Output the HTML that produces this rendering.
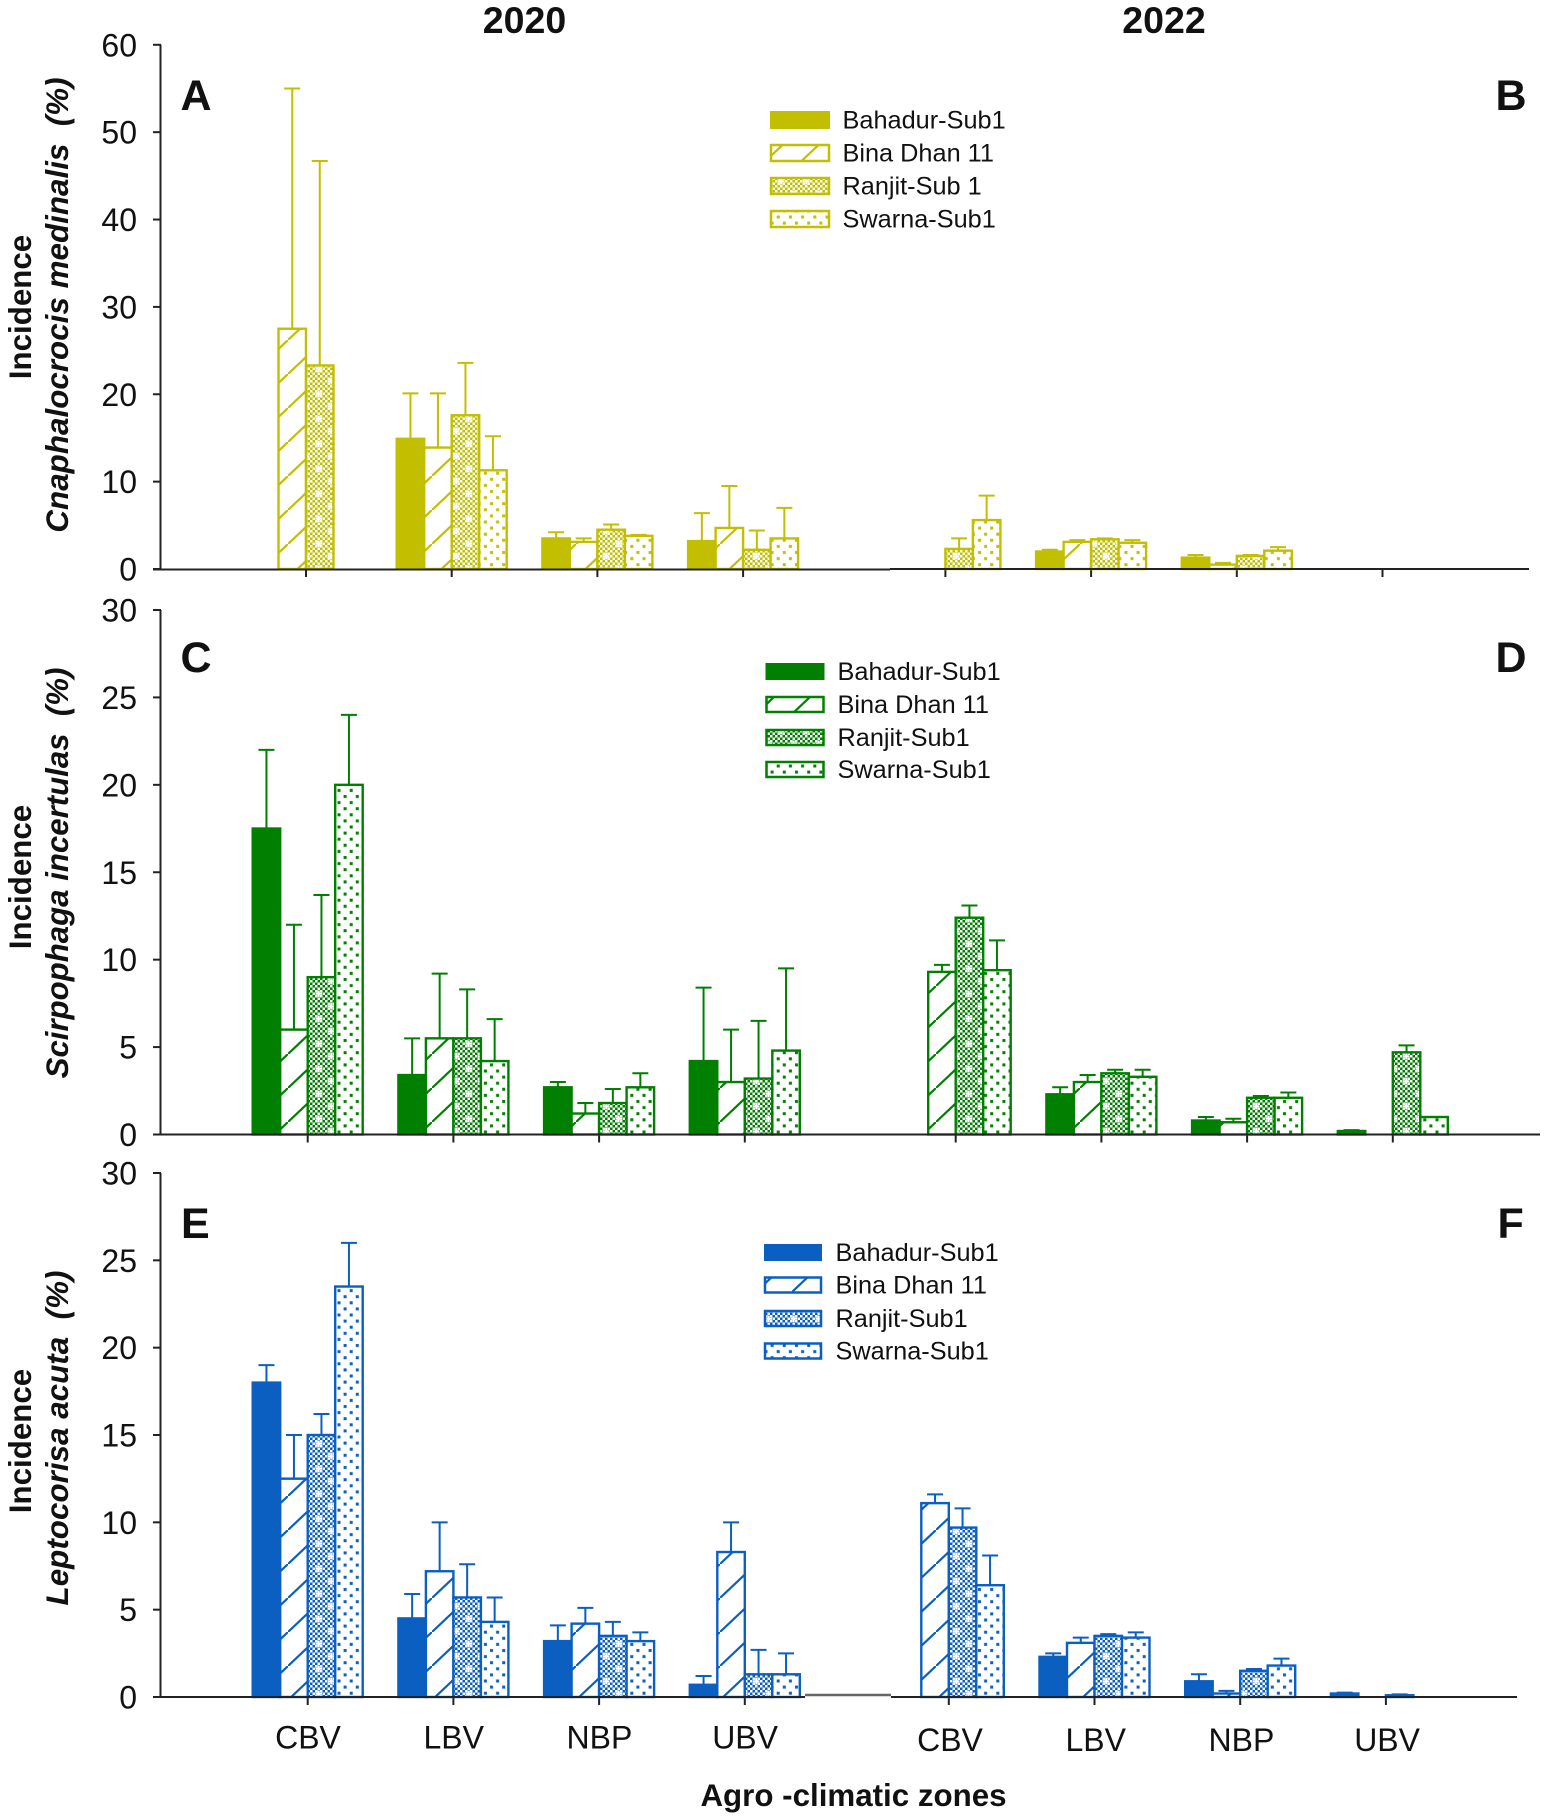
<!DOCTYPE html>
<html lang="en">
<head>
<meta charset="utf-8">
<title>Incidence by agro-climatic zone</title>
<style>
html,body{margin:0;padding:0;background:#fff;}
svg{display:block;font-family:"Liberation Sans",Arial,sans-serif;}
text{fill:#111;white-space:pre;}
.t{font-size:32px;}
.lg{font-size:25.3px;}
.b{font-weight:bold;}
.bi{font-weight:bold;font-style:italic;}
</style>
</head>
<body>
<svg id="chart" width="1545" height="1819" viewBox="0 0 1545 1819" xmlns="http://www.w3.org/2000/svg">
<defs id="defs"></defs>
<rect width="1545" height="1819" fill="#fff"/>

<text class="b" x="524.5" y="33" font-size="37.5" text-anchor="middle">2020</text>
<text class="b" x="1164" y="33" font-size="37.5" text-anchor="middle">2022</text>

<text class="b" x="180.5" y="110" font-size="43">A</text>
<text class="b" x="1495.5" y="110" font-size="43">B</text>
<text class="b" x="180.5" y="672" font-size="43">C</text>
<text class="b" x="1495.5" y="672" font-size="43">D</text>
<text class="b" x="181" y="1238" font-size="43">E</text>
<text class="b" x="1497.5" y="1238" font-size="43">F</text>

<text class="b" font-size="31.3" text-anchor="middle" transform="translate(31 307) rotate(-90)">Incidence</text>
<text class="bi" font-size="31.4" text-anchor="middle" transform="translate(68 305) rotate(-90)">Cnaphalocrocis medinalis  (%)</text>
<text class="b" font-size="31.3" text-anchor="middle" transform="translate(31 877) rotate(-90)">Incidence</text>
<text class="bi" font-size="31.2" text-anchor="middle" transform="translate(68 873) rotate(-90)">Scirpophaga incertulas  (%)</text>
<text class="b" font-size="31.3" text-anchor="middle" transform="translate(31 1441) rotate(-90)">Incidence</text>
<text class="bi" font-size="31.4" text-anchor="middle" transform="translate(68 1438) rotate(-90)">Leptocorisa acuta  (%)</text>

<text class="b" x="853.5" y="1806" font-size="31.3" text-anchor="middle">Agro -climatic zones</text>

<g>
  <rect x="771" y="112" width="58" height="16" fill="#c2bf00" stroke="#c2bf00" stroke-width="2"/>
  <rect x="771" y="145" width="58" height="16" fill="url(#hatch-olive)" stroke="#c2bf00" stroke-width="2.5"/>
  <rect x="771" y="178" width="58" height="16" fill="url(#check-olive)" stroke="#c2bf00" stroke-width="2.5"/>
  <rect x="771" y="211" width="58" height="16" fill="url(#dots-olive)" stroke="#c2bf00" stroke-width="2.5"/>
  <text class="lg" x="842.5" y="128.5">Bahadur-Sub1</text>
  <text class="lg" x="842.5" y="161.5">Bina Dhan 11</text>
  <text class="lg" x="842.5" y="194.5">Ranjit-Sub 1</text>
  <text class="lg" x="842.5" y="227.5">Swarna-Sub1</text>
</g>
<g>
  <rect x="766.5" y="664" width="57" height="15" fill="#007f00" stroke="#007f00" stroke-width="2"/>
  <rect x="766.5" y="697" width="57" height="15" fill="url(#hatch-green)" stroke="#007f00" stroke-width="2.5"/>
  <rect x="766.5" y="730" width="57" height="15" fill="url(#check-green)" stroke="#007f00" stroke-width="2.5"/>
  <rect x="766.5" y="762" width="57" height="15" fill="url(#dots-green)" stroke="#007f00" stroke-width="2.5"/>
  <text class="lg" x="837.5" y="680">Bahadur-Sub1</text>
  <text class="lg" x="837.5" y="713">Bina Dhan 11</text>
  <text class="lg" x="837.5" y="746">Ranjit-Sub1</text>
  <text class="lg" x="837.5" y="778">Swarna-Sub1</text>
</g>
<g>
  <rect x="765" y="1245" width="56" height="15" fill="#0a5fc0" stroke="#0a5fc0" stroke-width="2"/>
  <rect x="765" y="1277.5" width="56" height="15" fill="url(#hatch-blue)" stroke="#0a5fc0" stroke-width="2.5"/>
  <rect x="765" y="1311" width="56" height="15" fill="url(#check-blue)" stroke="#0a5fc0" stroke-width="2.5"/>
  <rect x="765" y="1343.5" width="56" height="15" fill="url(#dots-blue)" stroke="#0a5fc0" stroke-width="2.5"/>
  <text class="lg" x="835.5" y="1261">Bahadur-Sub1</text>
  <text class="lg" x="835.5" y="1293.5">Bina Dhan 11</text>
  <text class="lg" x="835.5" y="1327">Ranjit-Sub1</text>
  <text class="lg" x="835.5" y="1359.5">Swarna-Sub1</text>
</g>
<g id="plots"></g>
</svg>

<script>
// ---- Data: one row per zone, columns Bahadur, Bina, Ranjit, Swarna ----
const zones = ['CBV', 'LBV', 'NBP', 'UBV'];
const varieties = ['bahadur', 'bina', 'ranjit', 'swarna'];
const yTicksLeaffolder = [0, 10, 20, 30, 40, 50, 60];
const yTicksStemBorer = [0, 5, 10, 15, 20, 25, 30];
const yTicksGundhiBug = [0, 5, 10, 15, 20, 25, 30];

const meansA = [[0, 27.5, 23.3, 0], [14.9, 13.9, 17.6, 11.3], [3.5, 3.1, 4.5, 3.8], [3.2, 4.7, 2.2, 3.5]];
const uppersA = [[0, 55, 46.7, 0], [20.1, 20.1, 23.6, 15.2], [4.2, 3.5, 5.1, 3.9], [6.4, 9.5, 4.4, 7.0]];
const meansB = [[0, 0, 2.3, 5.6], [2.0, 3.1, 3.4, 3.0], [1.3, 0.5, 1.5, 2.1], [0, 0, 0, 0]];
const uppersB = [[0, 0, 3.5, 8.4], [2.2, 3.3, 3.5, 3.3], [1.6, 0.7, 1.6, 2.5], [0, 0, 0, 0]];
const meansC = [[17.5, 6, 9, 20], [3.4, 5.5, 5.5, 4.2], [2.7, 1.2, 1.8, 2.7], [4.2, 3.0, 3.2, 4.8]];
const uppersC = [[22, 12, 13.7, 24], [5.5, 9.2, 8.3, 6.6], [3.0, 1.8, 2.6, 3.5], [8.4, 6.0, 6.5, 9.5]];
const meansD = [[0, 9.3, 12.4, 9.4], [2.3, 3.0, 3.5, 3.3], [0.8, 0.7, 2.1, 2.1], [0.2, 0, 4.7, 1.0]];
const uppersD = [[0, 9.7, 13.1, 11.1], [2.7, 3.4, 3.7, 3.7], [1.0, 0.9, 2.2, 2.4], [0.25, 0, 5.1, 1.0]];
const meansE = [[18, 12.5, 15, 23.5], [4.5, 7.2, 5.7, 4.3], [3.2, 4.2, 3.5, 3.2], [0.7, 8.3, 1.3, 1.3]];
const uppersE = [[19, 15, 16.2, 26], [5.9, 10, 7.6, 5.7], [4.1, 5.1, 4.3, 3.7], [1.2, 10, 2.7, 2.5]];
const meansF = [[0, 11.1, 9.7, 6.4], [2.3, 3.1, 3.5, 3.4], [0.9, 0.2, 1.5, 1.8], [0.2, 0, 0.1, 0]];
const uppersF = [[0, 11.6, 10.8, 8.1], [2.5, 3.4, 3.6, 3.7], [1.3, 0.35, 1.6, 2.2], [0.25, 0, 0.15, 0]];

// ---- Layout ----
const NS = 'http://www.w3.org/2000/svg';
const BAR_W = 27.5, CAP = 16, TICK = 8, ZONE_STEP = 145.7;
const root = document.getElementById('plots');
const defs = document.getElementById('defs');

function mk(tag, attrs, parent) {
  const el = document.createElementNS(NS, tag);
  for (const k in attrs) el.setAttribute(k, attrs[k]);
  if (parent) parent.appendChild(el);
  return el;
}

function addPatterns(key, col) {
  const hatch = mk('pattern', {id: 'hatch-' + key, patternUnits: 'userSpaceOnUse', width: 36, height: 34}, defs);
  mk('rect', {width: 36, height: 34, fill: '#fff'}, hatch);
  mk('path', {d: 'M-2 35.9L38 -1.9', stroke: col, 'stroke-width': 2.2, fill: 'none'}, hatch);

  const check = mk('pattern', {id: 'check-' + key, patternUnits: 'userSpaceOnUse', width: 25, height: 25}, defs);
  mk('rect', {width: 25, height: 25, fill: col}, check);
  for (let i = 0; i < 5; i++) {
    for (let j = 0; j < 5; j++) {
      mk('rect', {x: i * 5, y: j * 5, width: 2.5, height: 2.5, fill: '#fff'}, check);
      mk('rect', {x: i * 5 + 2.5, y: j * 5 + 2.5, width: 2.5, height: 2.5, fill: '#fff'}, check);
    }
  }
  mk('path', {d: 'M3 6.2h6.5M6.2 3v6.5M15.5 18.7h6.5M18.7 15.5v6.5', stroke: '#fff', 'stroke-width': 2, fill: 'none'}, check);

  const dots = mk('pattern', {id: 'dots-' + key, patternUnits: 'userSpaceOnUse', width: 12.2, height: 12.2}, defs);
  mk('rect', {width: 12.2, height: 12.2, fill: '#fff'}, dots);
  mk('rect', {x: 2, y: 2, width: 3, height: 3, fill: col}, dots);
  mk('rect', {x: 8.1, y: 8.1, width: 3, height: 3, fill: col}, dots);
}
addPatterns('olive', '#c2bf00');
addPatterns('green', '#007f00');
addPatterns('blue', '#0a5fc0');

function drawSpine(x, yTop, yBottom) {
  const line = mk('line', {x1: x, x2: x, y1: yTop, y2: yBottom, stroke: '#222', 'stroke-width': 2}, root);
  
  
}

function drawYAxis(ticks, yScale, key) {
  ticks.forEach(function (t) {
    const tick = mk('line', {x1: 153, x2: 161, y1: yScale(t), y2: yScale(t), stroke: '#222', 'stroke-width': 2}, root);
    
    
    const lab = mk('text', {x: 137, y: yScale(t) + 11.5, 'text-anchor': 'end', 'class': 't'}, root);
    
    
    lab.textContent = t;
  });
}

function drawPanel(name, means, uppers, yScale, xFirst, colorKey, col) {
  const xZone = function (z) { return xFirst + z * ZONE_STEP; };
  const xBar = function (z, s) { return xZone(z) + (s - 2) * BAR_W; };
  zones.forEach(function (zone, z) {
    const tick = mk('line', {x1: xZone(z), x2: xZone(z), y1: yScale(0), y2: yScale(0) + TICK, stroke: '#222', 'stroke-width': 2}, root);
    
    
    varieties.forEach(function (variety, s) {
      const v = means[z][s], u = uppers[z][s];
      if (v <= 0) return;
      const cx = xBar(z, s) + BAR_W / 2;
      const err = mk('path', {
        d: 'M' + cx + ' ' + yScale(v) + 'V' + yScale(u) + 'M' + (cx - CAP / 2) + ' ' + yScale(u) + 'H' + (cx + CAP / 2),
        stroke: col, 'stroke-width': 2, fill: 'none'
      }, root);
      
      
      const fill = s === 0 ? col : 'url(#' + ['', 'hatch-', 'check-', 'dots-'][s] + colorKey + ')';
      const bar = mk('rect', {
        x: xBar(z, s), y: yScale(v), width: BAR_W, height: yScale(0) - yScale(v),
        fill: fill, stroke: col, 'stroke-width': 2.4
      }, root);
      
      
    });
  });
}

function drawBaseline(x1, x2, y, stroke, width) {
  const line = mk('line', {x1: x1, x2: x2, y1: y, y2: y, stroke: stroke, 'stroke-width': width}, root);
  
  
}

function drawZoneLabels(xFirst, baseline) {
  zones.forEach(function (zone, z) {
    const lab = mk('text', {x: xFirst + z * ZONE_STEP, y: baseline, 'text-anchor': 'middle', 'class': 't'}, root);
    
    
    lab.textContent = zone;
  });
}

const yA = function (v) { return 569 - v * (569 - 44.8) / 60; };
const yC = function (v) { return 1134.5 - v * (1134.5 - 610) / 30; };
const yE = function (v) { return 1697 - v * (1697 - 1173) / 30; };

drawSpine(160.5, yA(60), yA(0));
drawYAxis(yTicksLeaffolder, yA, 'a');
drawPanel('a', meansA, uppersA, yA, 306, 'olive', '#c2bf00');
drawPanel('b', meansB, uppersB, yA, 945.4, 'olive', '#c2bf00');
drawBaseline(153, 890, yA(0) + 0.5, '#222', 2);
drawBaseline(890, 1529, yA(0), '#222', 2);

drawSpine(160.5, yC(30), yC(0));
drawYAxis(yTicksStemBorer, yC, 'c');
drawPanel('c', meansC, uppersC, yC, 307.7, 'green', '#007f00');
drawPanel('d', meansD, uppersD, yC, 955.7, 'green', '#007f00');
drawBaseline(153, 1540, yC(0), '#222', 2);

drawSpine(160.5, yE(30), yE(0));
drawYAxis(yTicksGundhiBug, yE, 'e');
drawPanel('e', meansE, uppersE, yE, 307.7, 'blue', '#0a5fc0');
drawPanel('f', meansF, uppersF, yE, 948.8, 'blue', '#0a5fc0');
drawBaseline(153, 805, yE(0), '#222', 2);
drawBaseline(805, 891, yE(0) - 2, '#666', 2.5);
drawBaseline(891, 1517, yE(0), '#222', 2);

drawZoneLabels(308, 1748.5);
drawZoneLabels(950, 1751);
</script>
</body>
</html>
